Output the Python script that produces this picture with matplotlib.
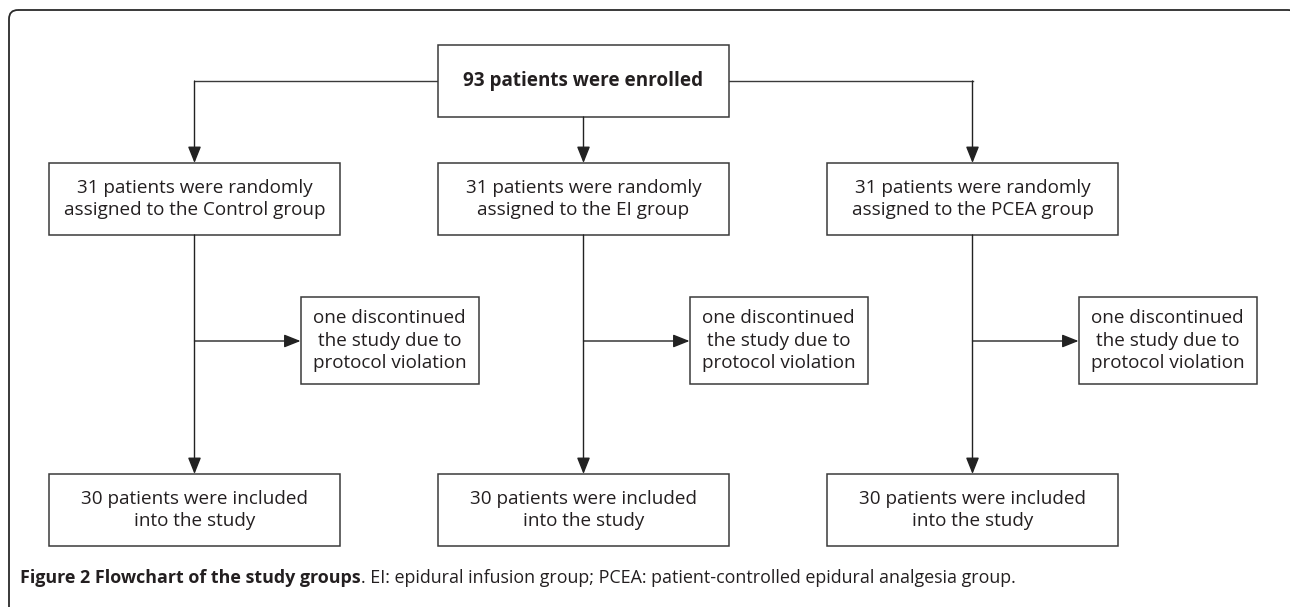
import matplotlib
matplotlib.use("Agg")
import matplotlib.pyplot as plt
from matplotlib import font_manager
from matplotlib.patches import FancyBboxPatch, Rectangle

# texts of the flowchart
top_text = "93 patients were enrolled"
group_texts = [
    "31 patients were randomly\nassigned to the Control group",
    "31 patients were randomly\nassigned to the EI group",
    "31 patients were randomly\nassigned to the PCEA group",
]
dropout_texts = ["one discontinued\nthe study due to\nprotocol violation"] * 3
included_texts = ["30 patients were included\ninto the study"] * 3
caption_bold = "Figure 2 Flowchart of the study groups"
caption_rest = ". EI: epidural infusion group; PCEA: patient-controlled epidural analgesia group."

INK = "#231f20"
LINE = "#3a3a3a"

available = {f.name for f in font_manager.fontManager.ttflist}
BOX_FONT = "Open Sans" if "Open Sans" in available else "DejaVu Sans"
CAP_FONT = BOX_FONT

W, H = 1290, 607
fig = plt.figure(figsize=(W / 100, H / 100), dpi=100)
ax = fig.add_axes([0, 0, 1, 1])
ax.set_xlim(0, W)
ax.set_ylim(H, 0)
ax.axis("off")

# outer rounded frame (runs off the right and bottom edge)
ax.add_patch(FancyBboxPatch((9, 10), 1288, 620, boxstyle="round,pad=0,rounding_size=9",
                            fc="none", ec="#2a2a2a", lw=1.3))

# layout (pixel coords)
BW, BH = 291, 72
centres = [194.5, 583.5, 972.5]
top_y, grp_y, inc_y = 45, 163, 474
side_dx, side_w, side_y, side_h = 106, 178, 297, 87
branch_y = 341


def box(x, y, w, h, text, size, weight="normal"):
    ax.add_patch(Rectangle((x, y), w, h, fc="white", ec=LINE, lw=1.1))
    ax.text(x + w / 2, y + h / 2, text, ha="center", va="center", fontsize=size,
            fontweight=weight, color=INK, family=BOX_FONT, linespacing=1.32)


def arrow(x0, y0, x1, y1):
    ax.annotate("", xy=(x1, y1), xytext=(x0, y0),
                arrowprops=dict(arrowstyle="-|>,head_length=10,head_width=4",
                                mutation_scale=1, shrinkA=0, shrinkB=0,
                                color="#222222", lw=1.0))


box(centres[1] - BW / 2, top_y, BW, BH, top_text, 13.6, "bold")
ax.plot([centres[0], centres[2]], [top_y + BH / 2] * 2, color=LINE, lw=1.0, zorder=0)

for c, g, d, inc in zip(centres, group_texts, dropout_texts, included_texts):
    if c == centres[1]:
        arrow(c, top_y + BH, c, grp_y)
    else:
        arrow(c, top_y + BH / 2, c, grp_y)
    box(c - BW / 2, grp_y, BW, BH, g, 13.6)
    arrow(c, grp_y + BH, c, inc_y)
    arrow(c, branch_y, c + side_dx, branch_y)
    box(c + side_dx, side_y, side_w, side_h, d, 13.6)
    box(c - BW / 2, inc_y, BW, BH, inc, 13.6)

# caption
t = ax.text(20, 578, caption_bold, ha="left", va="center", fontsize=12.9,
            fontweight="bold", color=INK, family=CAP_FONT)
fig.canvas.draw()
bb = t.get_window_extent()
x_end = ax.transData.inverted().transform((bb.x1, 0))[0]
ax.text(x_end, 578, caption_rest, ha="left", va="center", fontsize=12.9,
        color=INK, family=CAP_FONT)

fig.savefig("out.png", dpi=100)
